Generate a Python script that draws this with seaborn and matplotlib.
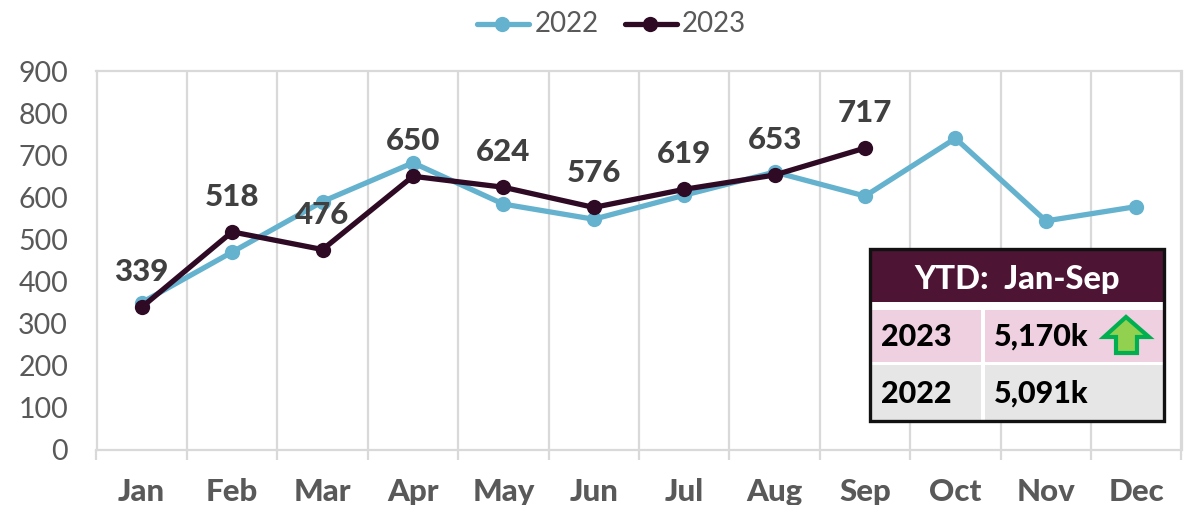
#!/usr/bin/env python3

import pandas as pd
import matplotlib.pyplot as plt
from matplotlib.patches import Rectangle, Polygon
from matplotlib.ticker import FixedLocator
import seaborn as sns

months = ["Jan", "Feb", "Mar", "Apr", "May", "Jun", "Jul", "Aug", "Sep", "Oct", "Nov", "Dec"]
values_2022 = [350, 470, 590, 682, 584, 548, 605, 660, 603, 740, 544, 578]
values_2023 = [339, 518, 476, 650, 624, 576, 619, 653, 717]
y_ticks = [0, 100, 200, 300, 400, 500, 600, 700, 800, 900]
ytd_title = "YTD:  Jan-Sep"
ytd_years = ["2023", "2022"]
ytd_totals = ["5,170k", "5,091k"]

W, H = 1185, 505
GRID = "#D9D9D9"
GREY = "#595959"
LABEL = "#404040"
BLUE = "#65B2CF"
DARK = "#2F0A24"
LW = 3.8
MS = 11
GRID_LW = 1.6

sns.set_style("white")
plt.rcParams["font.family"] = ["Lato", "DejaVu Sans"]

data = pd.DataFrame({
    "Month": months * 2,
    "Value": values_2022 + values_2023 + [None] * (len(months) - len(values_2023)),
    "Year": ["2022"] * len(months) + ["2023"] * len(months),
})

fig = plt.figure(figsize=(W / 100, H / 100), dpi=100)
ax = fig.add_axes([96.5 / W, 1 - 450 / H, (1181.5 - 96.5) / W, (450 - 71) / H])

sns.lineplot(
    data=data, x="Month", y="Value", hue="Year", palette={"2022": BLUE, "2023": DARK},
    marker="o", markersize=MS, markeredgewidth=0, linewidth=LW, sort=False, ax=ax,
    legend=False, zorder=3,
)

ax.set_xlim(-0.5, 11.5)
ax.set_ylim(0, 900)
ax.set_xlabel("")
ax.set_ylabel("")
ax.set_xticks(range(12))
ax.set_xticklabels(months, fontsize=22.5, fontweight="black", color=GREY)
ax.xaxis.set_minor_locator(FixedLocator([i - 0.5 for i in range(13)]))
ax.tick_params(axis="x", which="major", length=0, pad=20)
ax.tick_params(axis="x", which="minor", length=7.5, width=GRID_LW, color=GRID, bottom=True)
ax.set_yticks(y_ticks)
ax.tick_params(axis="y", length=0, pad=20.5, labelsize=20.5, labelcolor=GREY)
ax.grid(axis="x", which="minor", color=GRID, linewidth=GRID_LW)
ax.grid(axis="x", which="major", visible=False)
ax.grid(axis="y", visible=False)
for side in ax.spines:
    ax.spines[side].set_color(GRID)
    ax.spines[side].set_linewidth(GRID_LW)

# data labels for 2023
for i, v in enumerate(values_2023):
    ax.annotate(str(v), (i, v), xytext=(0, 15), textcoords="offset points",
                ha="center", va="bottom", fontsize=22.5, fontweight="black", color=LABEL, zorder=4)

# legend drawn in pixels above the plot
leg = fig.add_axes([0, 0, 1, 1], facecolor="none")
leg.set_xlim(0, W)
leg.set_ylim(H, 0)
leg.axis("off")
leg.plot([477, 529], [24, 24], color=BLUE, lw=LW, solid_capstyle="round")
leg.plot([502], [24], color=BLUE, marker="o", ms=MS, mew=0)
leg.text(535, 24, "2022", fontsize=20, color=GREY, va="center", ha="left")
leg.plot([625, 677], [24, 24], color=DARK, lw=LW, solid_capstyle="round")
leg.plot([650], [24], color=DARK, marker="o", ms=MS, mew=0)
leg.text(682, 24, "2023", fontsize=20, color=GREY, va="center", ha="left")

# YTD box
def box(x0, y0, x1, y1, **kw):
    leg.add_patch(Rectangle((x0, y0), x1 - x0, y1 - y0, **kw))

box(870, 249, 1164, 421, fc="white", ec="none", zorder=5)
box(870, 249, 1164, 302, fc="#4E1434", ec="none", zorder=6)
box(870, 310, 981, 362, fc="#EFD0E0", ec="none", zorder=6)
box(985, 310, 1164, 362, fc="#EFD0E0", ec="none", zorder=6)
box(870, 365, 981, 420, fc="#E7E6E6", ec="none", zorder=6)
box(985, 365, 1164, 420, fc="#E7E6E6", ec="none", zorder=6)
box(870, 249, 1164, 421, fc="none", ec="#111111", lw=2.4, zorder=7)

leg.text(1017, 280, ytd_title, fontsize=23.5, fontweight="black", color="white",
         ha="center", va="center", zorder=8)
for year, total, yc in zip(ytd_years, ytd_totals, [337, 394]):
    leg.text(881, yc, year, fontsize=22, fontweight="black", color="black", va="center", zorder=8)
    leg.text(994, yc, total, fontsize=22, fontweight="black", color="black", va="center", zorder=8)

arrow = [(1126, 317), (1149, 337), (1137, 337), (1137, 353), (1116, 353), (1116, 337), (1104, 337)]
leg.add_patch(Polygon(arrow, closed=True, fc="#92D050", ec="#00B050", lw=3, zorder=8))

fig.savefig("out.png", dpi=100)
